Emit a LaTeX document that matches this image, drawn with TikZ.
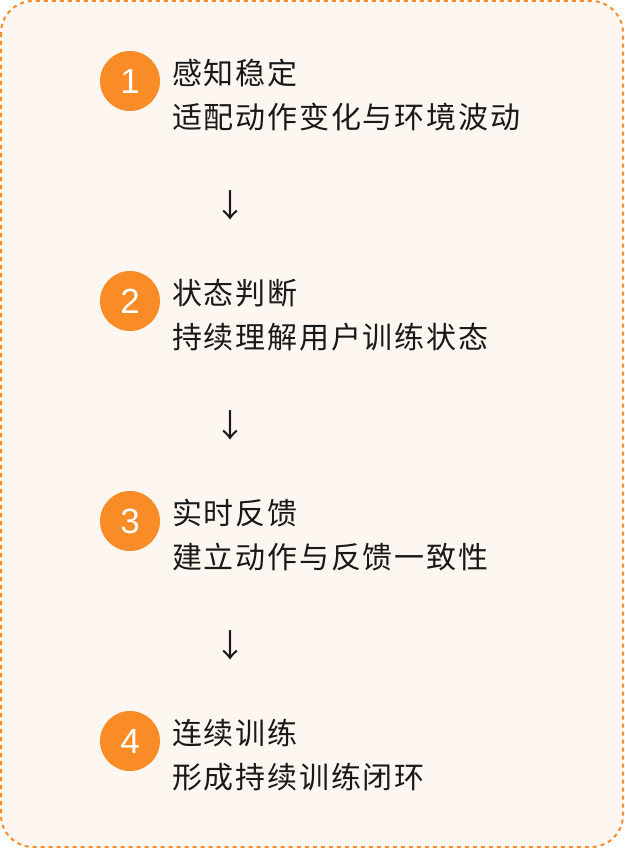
\documentclass[tikz,border=0pt]{standalone}
\usepackage{fontspec}
\usetikzlibrary{calc}
\newfontfamily\cjkfont{Noto Sans CJK SC}[LetterSpace=6]
\newfontfamily\numfont{Liberation Sans}
\definecolor{accent}{RGB}{250,140,40}
\definecolor{paper}{RGB}{254,247,241}
\definecolor{ink}{RGB}{25,25,25}
\tikzstyle{frame} = [draw=accent, fill=paper, line width=2pt,
    dash pattern=on 4pt off 4pt, rounded corners=32pt]
\tikzstyle{num} = [circle, fill=accent, text=white, minimum size=60pt,
    inner sep=0pt, font=\numfont\fontsize{35}{35}\selectfont]
\tikzstyle{txt} = [anchor=west, inner sep=0pt, text=ink,
    font=\cjkfont\fontsize{30}{36}\selectfont]
\tikzstyle{pil} = [inner sep=0pt, text=ink, font=\cjkfont\fontsize{32}{36}\selectfont]

\begin{document}
\begin{tikzpicture}[x=1pt,y=-1pt,node distance=220pt]
  \useasboundingbox (0,0) rectangle (624,848);
  \path[frame] (1,1) rectangle (623,847);

  \node[num] (n1) at (130,81) {1};
  \node[num] (n2) [below of=n1] {2};
  \node[num] (n3) [below of=n2] {3};
  \node[num] (n4) [below of=n3] {4};

  \node[txt] (t1) at ([xshift=42pt,yshift=8pt]n1.center) {感知稳定};
  \node[txt] (d1) at ([yshift=-44pt]t1.west) {适配动作变化与环境波动};
  \node[txt] (t2) at ([xshift=42pt,yshift=8pt]n2.center) {状态判断};
  \node[txt] (d2) at ([yshift=-44pt]t2.west) {持续理解用户训练状态};
  \node[txt] (t3) at ([xshift=42pt,yshift=8pt]n3.center) {实时反馈};
  \node[txt] (d3) at ([yshift=-44pt]t3.west) {建立动作与反馈一致性};
  \node[txt] (t4) at ([xshift=42pt,yshift=8pt]n4.center) {连续训练};
  \node[txt] (d4) at ([yshift=-44pt]t4.west) {形成持续训练闭环};

  \node[pil] (a1) at ($(d1.west)!0.5!(t2.west)+(58,0)$) {↓};
  \node[pil] (a2) at ($(d2.west)!0.5!(t3.west)+(58,0)$) {↓};
  \node[pil] (a3) at ($(d3.west)!0.5!(t4.west)+(58,0)$) {↓};
\end{tikzpicture}
\end{document}
